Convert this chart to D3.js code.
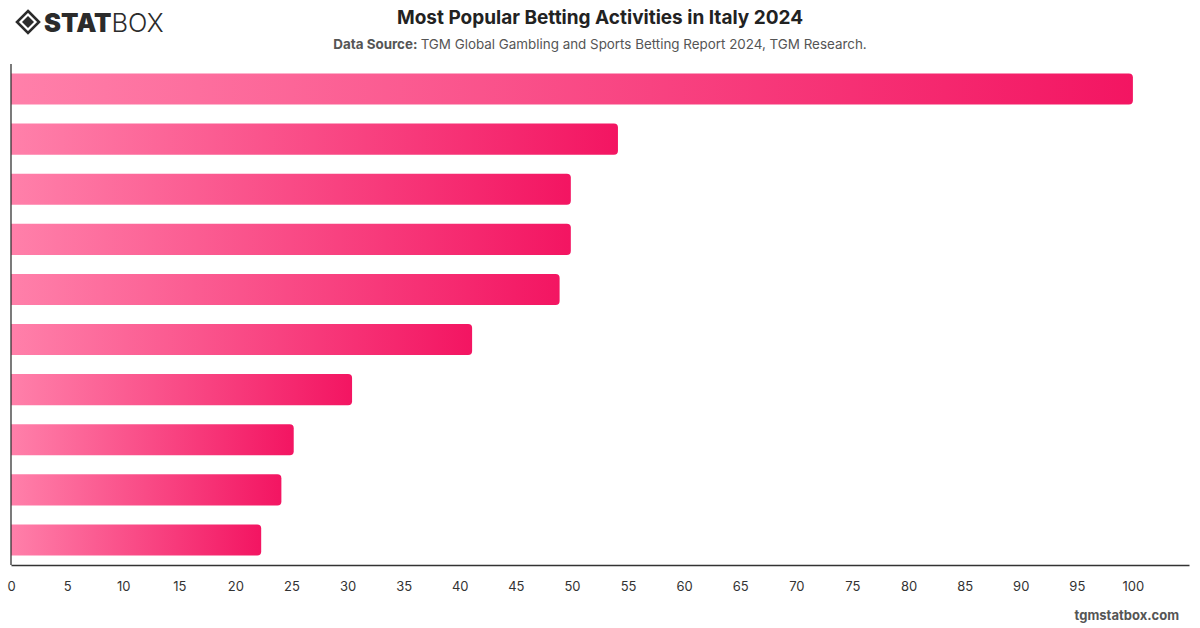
<!DOCTYPE html>
<html>
<head>
<meta charset="utf-8">
<script src="https://cdn.jsdelivr.net/npm/d3@7"></script>
<style>
  body { margin: 0; background: #fff; }
  svg { display: block; font-family: Inter, "Noto Sans", sans-serif; }
</style>
</head>
<body>
<div id="chart"></div>
<script>
// Drawing area
const w = 1200;
const h = 628;
const margin = { top: 64, right: 11, bottom: 63, left: 11 };

// Labels are not shown on the chart, so the categories are just numbered
const activities = ["Activity 1", "Activity 2", "Activity 3", "Activity 4", "Activity 5",
  "Activity 6", "Activity 7", "Activity 8", "Activity 9", "Activity 10"];
const values = [100, 54.1, 49.9, 49.9, 48.9, 41.1, 30.4, 25.2, 24.1, 22.3];
const tickValues = [0, 5, 10, 15, 20, 25, 30, 35, 40, 45, 50, 55, 60, 65, 70, 75, 80, 85, 90, 95, 100];

const dataset = activities.map((a, i) => ({ activity: a, value: values[i] }));

const svg = d3.select("#chart").append("svg")
  .attr("width", w)
  .attr("height", h);

// Gradient for each bar, light pink on the left to strong pink on the right
const grad = svg.append("defs").append("linearGradient")
  .attr("id", "barGradient")
  .attr("x1", "0%").attr("x2", "100%")
  .attr("y1", "0%").attr("y2", "0%");
grad.append("stop").attr("offset", "0%").attr("stop-color", "#ff80aa");
grad.append("stop").attr("offset", "100%").attr("stop-color", "#f31562");

const xScale = d3.scaleLinear()
  .domain([0, 105])
  .range([margin.left, w - margin.right]);

const yScale = d3.scaleBand()
  .domain(activities)
  .range([margin.top, h - margin.bottom])
  .paddingInner(0.38)
  .paddingOuter(0.19);

// Bar with only the right corners rounded
function barPath(d) {
  const x0 = xScale(0);
  const x1 = xScale(d.value);
  const y0 = yScale(d.activity);
  const bh = yScale.bandwidth();
  const r = 4;
  return `M${x0},${y0}H${x1 - r}Q${x1},${y0} ${x1},${y0 + r}V${y0 + bh - r}Q${x1},${y0 + bh} ${x1 - r},${y0 + bh}H${x0}Z`;
}

svg.selectAll(".bar")
  .data(dataset)
  .enter()
  .append("path")
  .attr("class", "bar")
  .attr("d", barPath)
  .attr("fill", "url(#barGradient)");

// x axis
const xAxis = d3.axisBottom(xScale)
  .tickValues(tickValues)
  .tickSize(0)
  .tickPadding(17);

const gx = svg.append("g")
  .attr("transform", `translate(0,${h - margin.bottom})`)
  .call(xAxis);
gx.select(".domain").attr("stroke", "#333").attr("stroke-width", 1.3);
gx.selectAll("text")
  .attr("fill", "#333")
  .style("font-size", "13px")
  .style("font-family", "Inter, sans-serif");

// y axis line only
svg.append("line")
  .attr("x1", margin.left).attr("x2", margin.left)
  .attr("y1", margin.top).attr("y2", h - margin.bottom)
  .attr("stroke", "#333")
  .attr("stroke-width", 1.3);

// Title and source
svg.append("text")
  .attr("x", 600)
  .attr("y", 24)
  .attr("text-anchor", "middle")
  .attr("fill", "#222")
  .style("font-size", "19px")
  .style("font-weight", "700")
  .text("Most Popular Betting Activities in Italy 2024");

const sub = svg.append("text")
  .attr("x", 600)
  .attr("y", 49)
  .attr("text-anchor", "middle")
  .attr("fill", "#555")
  .style("font-size", "13.4px");
sub.append("tspan").style("font-weight", "700").text("Data Source: ");
sub.append("tspan").text("TGM Global Gambling and Sports Betting Report 2024, TGM Research.");

// Watermark
svg.append("text")
  .attr("x", 1179)
  .attr("y", 620)
  .attr("text-anchor", "end")
  .attr("fill", "#555")
  .style("font-size", "13px")
  .style("font-weight", "700")
  .text("tgmstatbox.com");

// Logo
const logo = svg.append("g").attr("transform", "translate(28,22)");
logo.append("path")
  .attr("d", "M0,-11L11,0L0,11L-11,0Z")
  .attr("fill", "none")
  .attr("stroke", "#2b2b2b")
  .attr("stroke-width", 2.6);
logo.append("path")
  .attr("d", "M0,-6L6,0L0,6L-6,0Z")
  .attr("fill", "#2b2b2b");
const logoText = svg.append("text")
  .attr("x", 44)
  .attr("y", 32)
  .attr("fill", "#2b2b2b")
  .style("font-size", "25.5px");
logoText.append("tspan").style("font-weight", "900").text("STAT");
logoText.append("tspan").style("font-weight", "300").text("BOX");
</script>
</body>
</html>
